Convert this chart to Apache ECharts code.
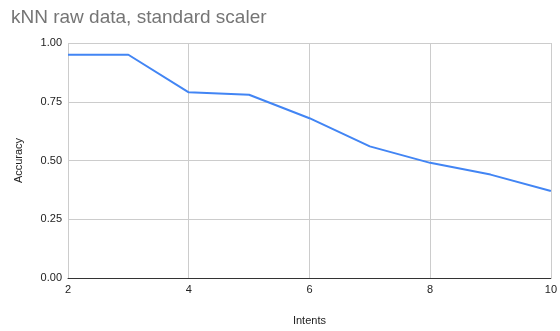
<!DOCTYPE html>
<html>
<head>
<meta charset="utf-8">
<script src="https://cdn.jsdelivr.net/npm/echarts@6/dist/echarts.min.js"></script>
<style>
  html, body { margin: 0; padding: 0; background: #fff; }
  #chart { width: 560px; height: 331px; }
</style>
</head>
<body>
<div id="chart"></div>
<script>
// Number of intents and the kNN accuracy measured for each
const intents = [2, 3, 4, 5, 6, 7, 8, 9, 10];
const accuracy = [0.95, 0.95, 0.79, 0.78, 0.68, 0.56, 0.49, 0.44, 0.37];

const chartTitle = 'kNN raw data, standard scaler';
const xAxisName = 'Intents';
const yAxisName = 'Accuracy';

const FONT = '"Liberation Sans", Arial, sans-serif';

const chart = echarts.init(document.getElementById('chart'), null, { renderer: 'canvas' });

chart.setOption({
  animation: false,
  backgroundColor: '#ffffff',
  title: {
    text: chartTitle,
    left: 6,
    top: 3,
    textStyle: { fontFamily: FONT, fontSize: 19, fontWeight: 'normal', color: '#757575' }
  },
  grid: { left: 68, right: 8, top: 43, bottom: 52, containLabel: false },
  xAxis: {
    type: 'value',
    min: 2,
    max: 10,
    interval: 2,
    name: xAxisName,
    nameLocation: 'middle',
    nameGap: 37,
    nameTextStyle: { fontFamily: FONT, fontSize: 11, color: '#222' },
    axisLine: { show: true, lineStyle: { color: '#333', width: 1 } },
    axisTick: { show: false },
    axisLabel: { fontFamily: FONT, fontSize: 11, color: '#222', margin: 6 },
    splitLine: { show: true, lineStyle: { color: '#cccccc', width: 1 } }
  },
  yAxis: {
    type: 'value',
    min: 0,
    max: 1,
    interval: 0.25,
    name: yAxisName,
    nameLocation: 'middle',
    nameGap: 44,
    nameRotate: 90,
    nameTextStyle: { fontFamily: FONT, fontSize: 11, color: '#222' },
    axisLine: { show: false },
    axisTick: { show: false },
    axisLabel: {
      fontFamily: FONT, fontSize: 11, color: '#222', margin: 6,
      formatter: v => v.toFixed(2)
    },
    splitLine: { show: true, lineStyle: { color: '#cccccc', width: 1 } }
  },
  series: [{
    type: 'line',
    data: intents.map((x, i) => [x, accuracy[i]]),
    showSymbol: false,
    symbol: 'none',
    lineStyle: { color: '#4285f4', width: 2 },
    itemStyle: { color: '#4285f4' }
  }]
});
</script>
</body>
</html>
